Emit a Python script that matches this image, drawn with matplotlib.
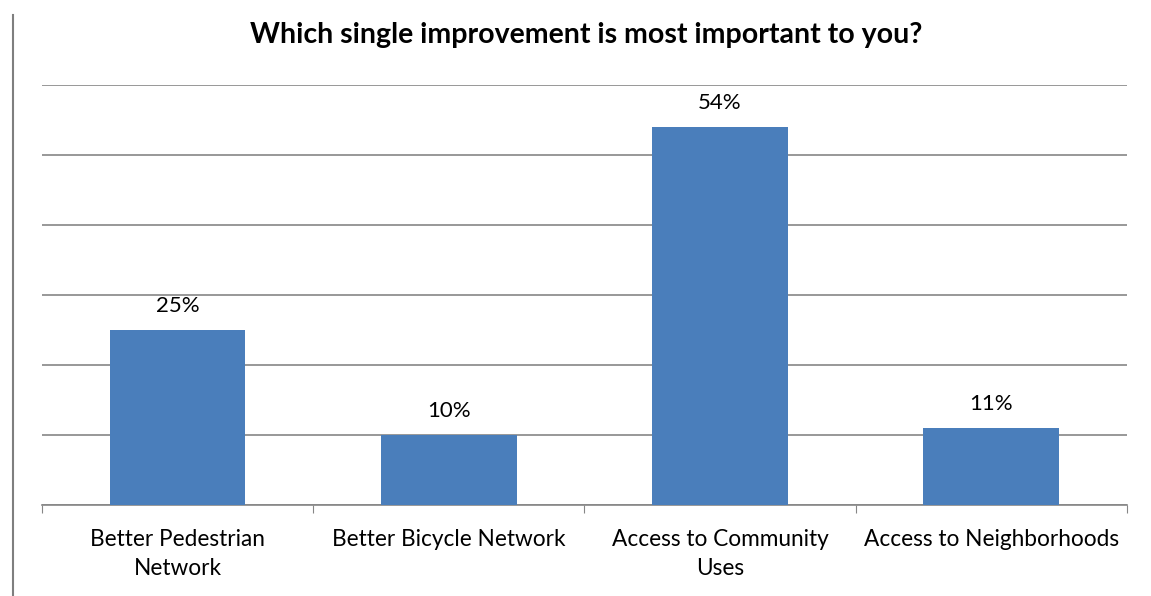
import matplotlib.pyplot as plt
from matplotlib.lines import Line2D

plt.rcParams['font.family'] = ['Lato', 'DejaVu Sans']

categories = ['Better Pedestrian\nNetwork', 'Better Bicycle Network',
              'Access to Community\nUses', 'Access to Neighborhoods']
values = [25, 10, 54, 11]
labels = ['25%', '10%', '54%', '11%']

fig = plt.figure(figsize=(11.51, 5.96), dpi=100)
ax = fig.add_axes([0.0365, 0.1527, 0.9425, 0.7043])

x = range(len(categories))
ax.bar(x, values, width=0.5, color='#4a7ebb', zorder=3)

for i in x:
    ax.text(i, values[i] + 2.0, labels[i], ha='center', va='bottom', fontsize=16)

ax.set_xlim(-0.5, len(categories) - 0.5)
ax.set_ylim(0, 60)
ax.set_yticks(range(0, 61, 10))
ax.yaxis.grid(True, color='#868686', linewidth=1.2, zorder=0)
ax.tick_params(axis='y', left=False, labelleft=False)

# category boundaries get the tick marks, labels sit in between
ax.set_xticks([i - 0.5 for i in range(len(categories) + 1)])
ax.set_xticklabels([])
ax.set_xticks(list(x), minor=True)
ax.set_xticklabels(categories, minor=True, fontsize=16.3, linespacing=1.5)
ax.tick_params(axis='x', which='major', length=6, color='#868686')
ax.tick_params(axis='x', which='minor', length=0, pad=17)

for s in ['top', 'right', 'left']:
    ax.spines[s].set_visible(False)
ax.spines['bottom'].set_color('#868686')
ax.spines['bottom'].set_linewidth(1.2)

fig.text(0.509, 0.942, 'Which single improvement is most important to you?',
         ha='center', va='center', fontsize=20.5, fontweight='bold')

fig.add_artist(Line2D([0.0115, 0.0115], [0.0, 0.975], color='#7f7f7f',
                      linewidth=1.5, transform=fig.transFigure))

fig.savefig('out.png', dpi=100)
